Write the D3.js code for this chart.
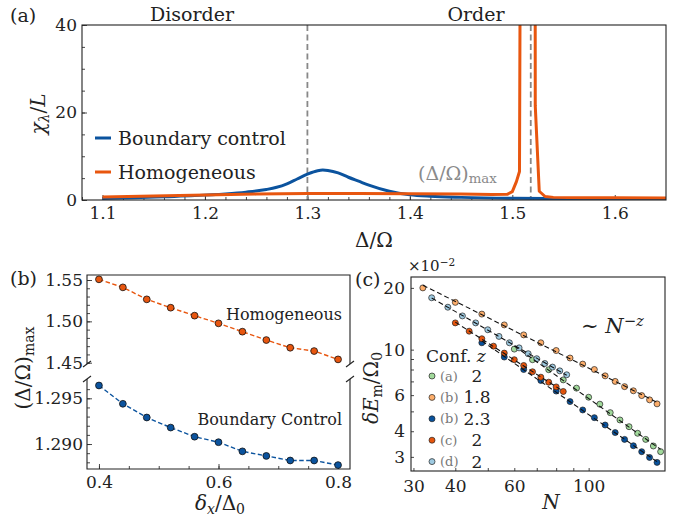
<!DOCTYPE html>
<html>
<head>
<meta charset="utf-8">
<script src="https://cdn.jsdelivr.net/npm/d3@7"></script>
<style>
  body { margin: 0; background: #fff; }
</style>
</head>
<body>
<svg id="fig" width="696" height="519"></svg>
<script>
// ---- panel (a): susceptibility vs Delta/Omega
const aBoundaryX = [1.10, 1.13, 1.16, 1.19, 1.22, 1.24, 1.26, 1.27, 1.28, 1.29, 1.30, 1.31, 1.315, 1.32, 1.33, 1.34, 1.35, 1.36, 1.38, 1.40, 1.42, 1.45, 1.50, 1.55, 1.60, 1.65];
const aBoundaryY = [0.35, 0.5, 0.75, 1.0, 1.4, 1.8, 2.4, 2.9, 3.7, 4.8, 5.9, 6.7, 6.85, 6.75, 6.2, 5.2, 4.3, 3.4, 2.0, 1.2, 0.85, 0.6, 0.4, 0.35, 0.3, 0.3];
const aHomogX = [1.10, 1.15, 1.20, 1.25, 1.30, 1.35, 1.40, 1.45, 1.48, 1.495, 1.50, 1.504, 1.507, 1.5082, 1.5222, 1.5224, 1.5263, 1.532, 1.54, 1.57, 1.60, 1.65];
const aHomogY = [0.7, 0.9, 1.15, 1.35, 1.5, 1.5, 1.45, 1.35, 1.25, 1.3, 1.9, 4.2, 6.5, 90, 90, 21.5, 2.0, 0.8, 0.6, 0.5, 0.5, 0.45];
const aMarkers = [1.30, 1.518];
const aXTicks = [1.1, 1.2, 1.3, 1.4, 1.5, 1.6];
const aYTicks = [0, 20, 40];

// ---- panel (b): (Delta/Omega)_max vs delta_x/Delta_0
const bDelta = [0.40, 0.44, 0.48, 0.52, 0.56, 0.60, 0.64, 0.68, 0.72, 0.76, 0.80];
const bHomog = [1.5508, 1.5411, 1.5266, 1.5165, 1.5069, 1.4976, 1.4875, 1.4774, 1.4681, 1.4641, 1.4540];
const bBoundary = [1.2964, 1.2944, 1.2929, 1.2918, 1.2908, 1.2902, 1.2892, 1.2887, 1.2882, 1.2882, 1.2877];
const bXTicks = [0.4, 0.6, 0.8];
const bTopTicks = [1.45, 1.50, 1.55];
const bLowTicks = [1.290, 1.295];

// ---- panel (c): gap scaling, values in units of 1e-2
const cNa = [60, 68, 76, 84, 92, 100, 108, 116, 124, 132, 140, 148, 156, 164];
const cEa = [10.06, 8.93, 7.98, 7.12, 6.49, 5.86, 5.42, 4.93, 4.54, 4.21, 3.91, 3.65, 3.39, 3.18];
const cNb1 = [32, 40, 48, 56, 64, 72, 80, 88, 96, 104, 112, 120, 128, 136, 144, 152, 160];
const cEb1 = [20.0, 17.0, 14.9, 13.2, 11.8, 10.8, 9.9, 9.1, 8.5, 8.0, 7.45, 7.0, 6.6, 6.3, 5.97, 5.69, 5.44];
const cNb2 = [48, 56, 64, 72, 80, 88, 96, 104, 112, 120, 128, 136, 144, 152, 160];
const cEb2 = [10.8, 9.2, 8.0, 7.07, 6.28, 5.58, 5.08, 4.66, 4.29, 3.94, 3.65, 3.40, 3.18, 2.98, 2.82];
const cNc = [40, 44, 48, 52, 56, 60, 64, 68, 72, 76, 80, 84];
const cEc = [13.5, 12.3, 11.3, 10.4, 9.62, 8.93, 8.37, 7.80, 7.34, 6.94, 6.58, 6.25];
const cNd = [34, 38, 42, 46, 50, 54, 58, 62, 66, 70, 74, 78, 82, 86];
const cEd = [17.9, 16.1, 14.6, 13.5, 12.5, 11.6, 10.8, 10.2, 9.55, 9.03, 8.56, 8.22, 7.88, 7.54];
const cConf = ["(a)", "(b)", "(b)", "(c)", "(d)"];
const cZ = ["2", "1.8", "2.3", "2", "2"];
const cXTicks = [30, 40, 60, 100];
const cYTicks = [3, 4, 6, 10, 20];

const BLUE = "#0b539e", ORANGE = "#e8560f";
const cColors = ["#a1d99b", "#fdae6b", "#08519c", "#e6550d", "#9ecae1"];
const FONT = "DejaVu Serif";

const svg = d3.select("#fig");
svg.append("rect").attr("width", 696).attr("height", 519).attr("fill", "#fff");

function axis(gen, at, scale, vals, size, fmt, pad) {
  const g = svg.append("g").attr("transform", at)
    .call(gen(scale).tickValues(vals).tickSize(-size).tickSizeOuter(0)
      .tickPadding(pad || 6).tickFormat(fmt || ""));
  g.attr("font-family", FONT).attr("font-size", 17);
  g.select(".domain").remove();
  g.selectAll("line").attr("stroke", "#333").attr("stroke-width", 0.9);
  g.selectAll("text").attr("fill", "#222");
  return g;
}
function frame(l, t, r, b) {
  svg.append("rect").attr("x", l).attr("y", t).attr("width", r - l).attr("height", b - t)
    .attr("fill", "none").attr("stroke", "#222").attr("stroke-width", 1.1);
}
function label(x, y, size, parts, rot, anchor) {
  const t = svg.append("text").attr("x", x).attr("y", y)
    .attr("font-family", FONT).attr("font-size", size)
    .attr("fill", "#222").attr("text-anchor", anchor || "middle");
  if (rot) t.attr("transform", `rotate(-90,${x},${y})`);
  parts.forEach(p => {
    const s = t.append("tspan").text(p.t);
    if (p.i) s.attr("font-style", "italic");
    if (p.sub) s.attr("font-size", size * 0.7).attr("baseline-shift", "-25%");
    if (p.sup) s.attr("font-size", size * 0.7).attr("baseline-shift", "45%");
    if (p.fill) s.attr("fill", p.fill);
  });
  return t;
}
const range = (a, b, s) => d3.range(a, b + s / 2, s).map(v => +v.toFixed(4));

// ================= panel (a) =================
const A = { l: 82, r: 666, t: 25, b: 200 };
const xa = d3.scaleLinear().domain([1.08, 1.65]).range([A.l, A.r]);
const ya = d3.scaleLinear().domain([0, 40]).range([A.b, A.t]);

svg.append("clipPath").attr("id", "clipA").append("rect")
  .attr("x", A.l).attr("y", A.t).attr("width", A.r - A.l).attr("height", A.b - A.t);

axis(d3.axisBottom, `translate(0,${A.b})`, xa, range(1.08, 1.64, 0.02), 3);
axis(d3.axisBottom, `translate(0,${A.b})`, xa, aXTicks, 5, d3.format(".1f"), 7);
axis(d3.axisLeft, `translate(${A.l},0)`, ya, range(0, 40, 5), 3);
axis(d3.axisLeft, `translate(${A.l},0)`, ya, aYTicks, 5, d3.format("d"), 5);

const gA = svg.append("g").attr("clip-path", "url(#clipA)");
aMarkers.forEach(v => {
  gA.append("line").attr("x1", xa(v)).attr("x2", xa(v)).attr("y1", A.t).attr("y2", A.b)
    .attr("stroke", "#888").attr("stroke-width", 1.8).attr("stroke-dasharray", "6,3.5");
});
const lineA = d3.line().x(d => xa(d[0])).y(d => ya(d[1]));
gA.append("path").attr("d", lineA.curve(d3.curveMonotoneX)(d3.zip(aBoundaryX, aBoundaryY)))
  .attr("fill", "none").attr("stroke", BLUE).attr("stroke-width", 3);
gA.append("path").attr("d", lineA.curve(d3.curveLinear)(d3.zip(aHomogX, aHomogY)))
  .attr("fill", "none").attr("stroke", ORANGE).attr("stroke-width", 3).attr("stroke-linejoin", "round");
frame(A.l, A.t, A.r, A.b);

// legend (a)
[["Boundary control", BLUE, 138], ["Homogeneous", ORANGE, 172]].forEach(([name, col, y]) => {
  svg.append("line").attr("x1", 95).attr("x2", 111).attr("y1", y).attr("y2", y)
    .attr("stroke", col).attr("stroke-width", 3);
  label(118, y + 7, 19, [{ t: name }], false, "start");
});
label(418, 180, 19, [{ t: "(Δ/Ω)", fill: "#8a8a8a" }, { t: "max", sub: 1, fill: "#8a8a8a" }], false, "start");
label(192, 21, 19, [{ t: "Disorder" }]);
label(476, 21, 19, [{ t: "Order" }]);
label(10, 22, 19, [{ t: "(a)" }], false, "start");
label(374, 247, 20, [{ t: "Δ/Ω" }]);
label(45, 114, 20, [{ t: "χ", i: 1 }, { t: "λ", i: 1, sub: 1 }, { t: "/" }, { t: "L", i: 1 }], true);

// ================= panel (b) =================
const B = { l: 87, r: 350, t: 275, m1: 364, m2: 379, b: 469 };
const xb = d3.scaleLinear().domain([0.38, 0.82]).range([B.l, B.r]);
const yTop = d3.scaleLinear().domain([1.44843, 1.55605]).range([B.m1, B.t]);
const yLow = d3.scaleLinear().domain([1.28727, 1.29711]).range([B.b, B.m2]);

axis(d3.axisBottom, `translate(0,${B.b})`, xb, range(0.4, 0.8, 0.05), 3);
axis(d3.axisBottom, `translate(0,${B.b})`, xb, bXTicks, 5, d3.format(".1f"), 7);
axis(d3.axisLeft, `translate(${B.l},0)`, yTop, range(1.45, 1.55, 0.01), 3);
axis(d3.axisLeft, `translate(${B.l},0)`, yTop, bTopTicks, 5, d3.format(".2f"), 4);
axis(d3.axisLeft, `translate(${B.l},0)`, yLow, range(1.288, 1.296, 0.001), 3);
axis(d3.axisLeft, `translate(${B.l},0)`, yLow, bLowTicks, 5, d3.format(".3f"), 4);

// spines of broken axis (open between the two parts)
[[B.t, B.m1, true], [B.m2, B.b, false]].forEach(([t, b, top]) => {
  const p = top
    ? `M${B.l},${b}V${t}H${B.r}V${b}`
    : `M${B.l},${t}V${b}H${B.r}V${t}`;
  svg.append("path").attr("d", p).attr("fill", "none").attr("stroke", "#222").attr("stroke-width", 1.1);
});
[B.m1, B.m2].forEach(y => [B.l, B.r].forEach(x => {
  svg.append("line").attr("x1", x - 4).attr("y1", y + 3).attr("x2", x + 4).attr("y2", y - 3)
    .attr("stroke", "#222").attr("stroke-width", 1.1);
}));

[[bHomog, yTop, ORANGE], [bBoundary, yLow, BLUE]].forEach(([vals, ys, col]) => {
  const pts = d3.zip(bDelta, vals);
  svg.append("path").attr("d", d3.line().x(d => xb(d[0])).y(d => ys(d[1]))(pts))
    .attr("fill", "none").attr("stroke", col).attr("stroke-width", 1.4).attr("stroke-dasharray", "4.5,2.5");
  svg.append("g").selectAll("circle").data(pts).join("circle")
    .attr("cx", d => xb(d[0])).attr("cy", d => ys(d[1])).attr("r", 3.4)
    .attr("fill", col).attr("stroke", "#111").attr("stroke-width", 0.8);
});
label(342, 320, 16, [{ t: "Homogeneous" }], false, "end");
label(342, 425, 16, [{ t: "Boundary Control" }], false, "end");
label(10, 285, 19, [{ t: "(b)" }], false, "start");
label(220, 510, 20, [{ t: "δ", i: 1 }, { t: "x", i: 1, sub: 1 }, { t: "/Δ" }, { t: "0", sub: 1 }]);
label(30, 368, 20, [{ t: "(Δ/Ω)" }, { t: "max", sub: 1 }], true);

// ================= panel (c) =================
const C = { l: 411, r: 665, t: 277, b: 471 };
const xc = d3.scaleLog().domain([29.5, 169]).range([C.l, C.r]);
const yc = d3.scaleLog().domain([2.56, 22.6]).range([C.b, C.t]);

axis(d3.axisBottom, `translate(0,${C.b})`, xc, [30, 40, 50, 60, 70, 80, 90, 100], 3);
axis(d3.axisBottom, `translate(0,${C.b})`, xc, cXTicks, 0.01, d3.format("d"), 9);
axis(d3.axisLeft, `translate(${C.l},0)`, yc, [3, 4, 5, 6, 7, 8, 9, 10, 20], 3);
axis(d3.axisLeft, `translate(${C.l},0)`, yc, cYTicks, 0.01, d3.format("d"), 6);
frame(C.l, C.t, C.r, C.b);

const cSeries = [[cNa, cEa], [cNb1, cEb1], [cNb2, cEb2], [cNc, cEc], [cNd, cEd]];
const gC = svg.append("g");
cSeries.forEach(([N, E], k) => {
  gC.append("g").selectAll("circle").data(d3.zip(N, E)).join("circle")
    .attr("cx", d => xc(d[0])).attr("cy", d => yc(d[1])).attr("r", 3)
    .attr("fill", cColors[k]).attr("stroke", "#222").attr("stroke-width", 0.7);
});
// power-law fits (least squares in log-log)
cSeries.forEach(([N, E]) => {
  const lx = N.map(Math.log), ly = E.map(Math.log);
  const mx = d3.mean(lx), my = d3.mean(ly);
  const s = d3.sum(lx, (v, i) => (v - mx) * (ly[i] - my)) / d3.sum(lx, v => (v - mx) ** 2);
  const f = n => Math.exp(my + s * (Math.log(n) - mx));
  const ends = [N[0], N[N.length - 1]];
  gC.append("path").attr("d", d3.line().x(d => xc(d)).y(d => yc(f(d)))(ends))
    .attr("fill", "none").attr("stroke", "#111").attr("stroke-width", 1.1).attr("stroke-dasharray", "5,3");
});

// legend (c)
label(426, 362, 17, [{ t: "Conf. " }, { t: "z", i: 1 }], false, "start");
cConf.forEach((c, k) => {
  const y = 376 + k * 21.4;
  svg.append("circle").attr("cx", 432).attr("cy", y).attr("r", 3)
    .attr("fill", cColors[k]).attr("stroke", "#222").attr("stroke-width", 0.7);
  label(440, y + 4.5, 13, [{ t: c, fill: "#777" }], false, "start");
  label(477, y + 6, 17, [{ t: cZ[k] }]);
});
label(581, 333, 21, [{ t: "∼ " }, { t: "N", i: 1 }, { t: "−z", i: 1, sup: 1 }], false, "start");
label(408, 271, 15, [{ t: "×10" }, { t: "−2", sup: 1 }], false, "start");
label(355, 286, 19, [{ t: "(c)" }], false, "start");
label(551, 509, 20, [{ t: "N", i: 1 }]);
label(378, 388, 20, [{ t: "δE", i: 1 }, { t: "m", sub: 1 }, { t: "/Ω" }, { t: "0", sub: 1 }], true);
</script>
</body>
</html>
